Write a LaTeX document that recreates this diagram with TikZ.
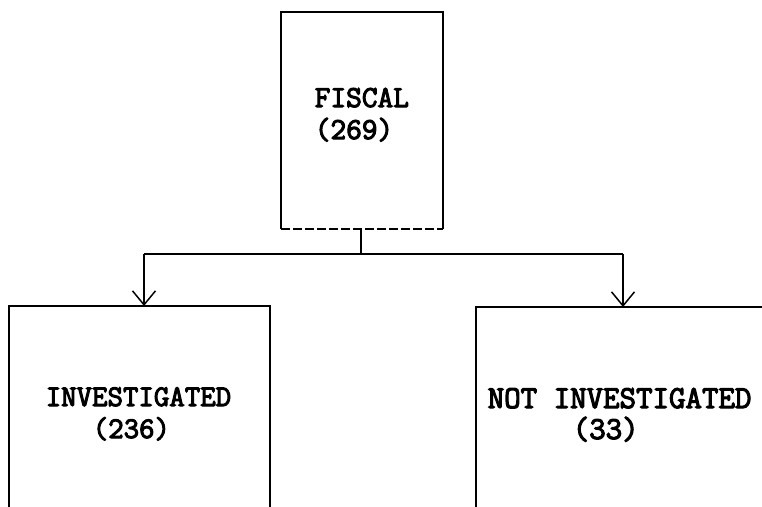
\documentclass[tikz,border=0pt]{standalone}
\usepackage{fontspec}
\setmonofont{Latin Modern Mono}[AutoFakeBold=3.5]
\usetikzlibrary{arrows.meta}
\begin{document}
\begin{tikzpicture}[x=1pt,y=-1pt,
  line width=1.5pt,
  boxnode/.style={rectangle,inner sep=0pt,outer sep=0pt},
  lbl/.style={anchor=base west,inner sep=0pt,font=\ttfamily\bfseries\fontsize{#1}{34}\selectfont},
  arr/.style={-{Straight Barb[length=14pt,width=23pt,line width=1.5pt]}},
  conn/.style={line width=1.5pt}]
\useasboundingbox (0,0) rectangle (762,506);
\clip (0,0) rectangle (762,506);
% boxes (edges drawn separately)
\node[boxnode,minimum width=162pt,minimum height=217pt] (fiscal) at (362,120.5) {};
\node[boxnode,minimum width=261pt,minimum height=260pt] (inv) at (139.5,436) {};
\node[boxnode,minimum width=330pt,minimum height=260pt] (notinv) at (641,437) {};
% top box edges
\draw (fiscal.south west) -- (fiscal.north west) -- (fiscal.north east) -- (fiscal.south east);
\draw[dash pattern=on 9pt off 3pt] (fiscal.south west) -- (fiscal.south east);
% lower boxes (open at the bottom)
\draw (inv.south west) -- (inv.north west) -- (inv.north east) -- (inv.south east);
\draw (notinv.south west) -- (notinv.north west) -- (notinv.north east);
% connectors
\coordinate (junction) at (361,254);
\coordinate (lcorner) at (144,254);
\coordinate (rcorner) at (623,254);
\draw[conn] (fiscal.south -| junction) -- (junction);
\draw[conn] (lcorner) -- (rcorner);
\draw[arr] (lcorner) -- (lcorner |- inv.north);
\draw[arr] (rcorner) -- (rcorner |- notinv.north);
% labels
\node[lbl=30.5] (t1) at (314,107) {FISCAL};
\node[lbl=30.5] (t2) at (314,139) {(269)};
\node[lbl=30] (t3) at (45,406) {INVESTIGATED};
\node[lbl=30] (t4) at (92,438) {(236)};
\node[lbl=32] (t5) at (487,408) {NOT INVESTIGATED};
\node[lbl=32] (t6) at (572,439) {(33)};
\end{tikzpicture}
\end{document}
